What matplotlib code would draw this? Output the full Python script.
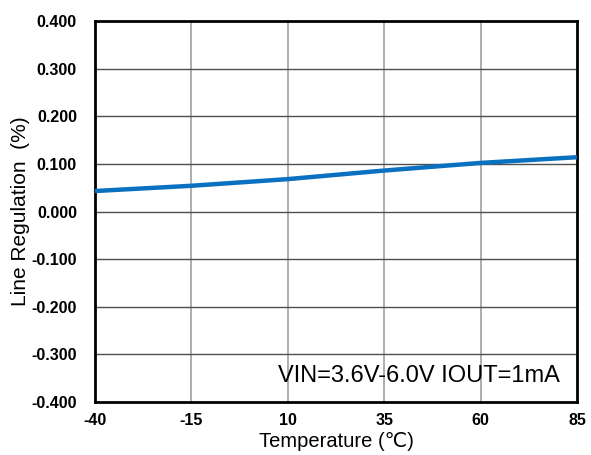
import matplotlib
matplotlib.use("Agg")
import matplotlib.pyplot as plt

temps = [-40, -15, 10, 35, 60, 85]
line_reg = [0.043, 0.054, 0.068, 0.086, 0.102, 0.114]
xticks = [-40, -15, 10, 35, 60, 85]
yticks = [-0.4, -0.3, -0.2, -0.1, 0.0, 0.1, 0.2, 0.3, 0.4]

plt.rcParams['font.family'] = ['Liberation Sans', 'DejaVu Sans']

fig = plt.figure(figsize=(5.91, 4.55), dpi=100)
ax = fig.add_axes([95/591, 53/455, 482/591, 381/455])

ax.plot(temps, line_reg, color='#0a70c0', lw=3.2, solid_capstyle='butt', zorder=3)

ax.set_xlim(-40, 85)
ax.set_ylim(-0.4, 0.4)
ax.set_xticks(xticks)
ax.set_yticks(yticks)
ax.set_yticklabels([f"{v:.3f}" for v in yticks], fontweight='bold', fontsize=11.5)
ax.set_xticklabels([str(v) for v in xticks], fontweight='bold', fontsize=11.5)
ax.tick_params(axis='y', length=0, pad=13)
ax.tick_params(axis='x', length=0, pad=8)
for v in xticks[1:-1]:
    ax.axvline(v, color='#a0a0a0', lw=1.2, zorder=1)
for v in yticks[1:-1]:
    ax.axhline(v, color='#505050', lw=1.0, zorder=1)
for s in ax.spines.values():
    s.set_linewidth(2)
    s.set_color('black')
ax.set_xlabel('Temperature (℃)', fontsize=14.5, labelpad=3)
ax.set_ylabel('Line Regulation  (%)', fontsize=15, labelpad=1)
ax.text(0.965, 0.04, 'VIN=3.6V-6.0V IOUT=1mA', transform=ax.transAxes,
        ha='right', va='bottom', fontsize=17)
fig.savefig('out.png', dpi=100)
